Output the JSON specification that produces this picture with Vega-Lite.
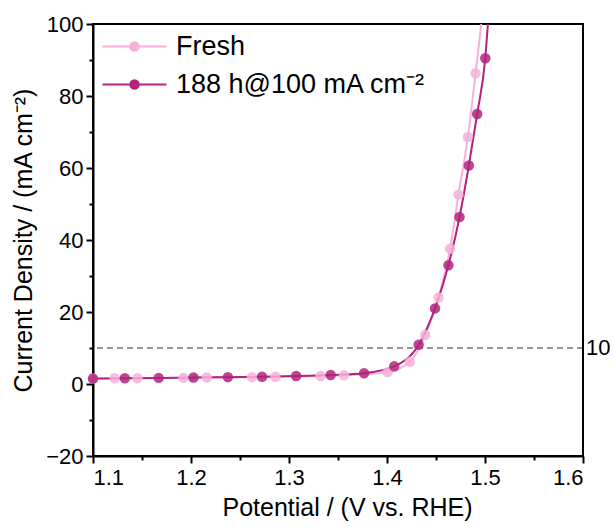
{
  "$schema": "https://vega.github.io/schema/vega-lite/v6.json",
  "width": 490,
  "height": 432,
  "autosize": {"type": "none"},
  "padding": {"left": 93, "top": 24, "right": 31, "bottom": 73},
  "background": "white",
  "config": {
    "font": "Liberation Sans",
    "view": {"stroke": "#000000", "strokeWidth": 2},
    "axis": {
      "domainColor": "#000000", "domainWidth": 2,
      "tickColor": "#000000", "tickWidth": 2,
      "labelColor": "#000000", "titleColor": "#000000",
      "grid": false, "labelFontSize": 22, "titleFontSize": 25,
      "titleFontWeight": "normal", "labelFont": "Liberation Sans", "titleFont": "Liberation Sans"
    }
  },
  "datasets": {
    "markers": [
      {"sample": "Fresh", "V": 1.1, "j": 1.5},
      {"sample": "Fresh", "V": 1.1222, "j": 1.6},
      {"sample": "Fresh", "V": 1.1454, "j": 1.6},
      {"sample": "Fresh", "V": 1.1922, "j": 1.7},
      {"sample": "Fresh", "V": 1.2161, "j": 1.8},
      {"sample": "Fresh", "V": 1.2622, "j": 1.9},
      {"sample": "Fresh", "V": 1.2861, "j": 2.0},
      {"sample": "Fresh", "V": 1.3322, "j": 2.2},
      {"sample": "Fresh", "V": 1.3561, "j": 2.4},
      {"sample": "Fresh", "V": 1.4005, "j": 3.3},
      {"sample": "Fresh", "V": 1.4234, "j": 6.2},
      {"sample": "Fresh", "V": 1.439, "j": 13.6},
      {"sample": "Fresh", "V": 1.4525, "j": 24.0},
      {"sample": "Fresh", "V": 1.4644, "j": 37.6},
      {"sample": "Fresh", "V": 1.4729, "j": 52.6},
      {"sample": "Fresh", "V": 1.4825, "j": 68.6},
      {"sample": "Fresh", "V": 1.4904, "j": 86.3},
      {"sample": "188 h@100 mA cm⁻²", "V": 1.1, "j": 1.5},
      {"sample": "188 h@100 mA cm⁻²", "V": 1.1325, "j": 1.6},
      {"sample": "188 h@100 mA cm⁻²", "V": 1.167, "j": 1.7},
      {"sample": "188 h@100 mA cm⁻²", "V": 1.2025, "j": 1.8},
      {"sample": "188 h@100 mA cm⁻²", "V": 1.2376, "j": 1.9},
      {"sample": "188 h@100 mA cm⁻²", "V": 1.2725, "j": 2.0},
      {"sample": "188 h@100 mA cm⁻²", "V": 1.3073, "j": 2.2},
      {"sample": "188 h@100 mA cm⁻²", "V": 1.3425, "j": 2.5},
      {"sample": "188 h@100 mA cm⁻²", "V": 1.3766, "j": 3.0},
      {"sample": "188 h@100 mA cm⁻²", "V": 1.4074, "j": 4.9},
      {"sample": "188 h@100 mA cm⁻²", "V": 1.4323, "j": 10.9},
      {"sample": "188 h@100 mA cm⁻²", "V": 1.449, "j": 21.0},
      {"sample": "188 h@100 mA cm⁻²", "V": 1.4627, "j": 33.0},
      {"sample": "188 h@100 mA cm⁻²", "V": 1.474, "j": 46.4},
      {"sample": "188 h@100 mA cm⁻²", "V": 1.4835, "j": 60.7},
      {"sample": "188 h@100 mA cm⁻²", "V": 1.492, "j": 75.0},
      {"sample": "188 h@100 mA cm⁻²", "V": 1.5003, "j": 90.5}
    ],
    "curves": [
      {"sample": "Fresh", "V": 1.1, "j": 1.5},
      {"sample": "Fresh", "V": 1.1222, "j": 1.6},
      {"sample": "Fresh", "V": 1.1454, "j": 1.6},
      {"sample": "Fresh", "V": 1.1922, "j": 1.7},
      {"sample": "Fresh", "V": 1.2161, "j": 1.8},
      {"sample": "Fresh", "V": 1.2622, "j": 1.9},
      {"sample": "Fresh", "V": 1.2861, "j": 2.0},
      {"sample": "Fresh", "V": 1.3322, "j": 2.2},
      {"sample": "Fresh", "V": 1.3561, "j": 2.4},
      {"sample": "Fresh", "V": 1.4005, "j": 3.3},
      {"sample": "Fresh", "V": 1.4234, "j": 6.2},
      {"sample": "Fresh", "V": 1.439, "j": 13.6},
      {"sample": "Fresh", "V": 1.4525, "j": 24.0},
      {"sample": "Fresh", "V": 1.4644, "j": 37.6},
      {"sample": "Fresh", "V": 1.4729, "j": 52.6},
      {"sample": "Fresh", "V": 1.4825, "j": 68.6},
      {"sample": "Fresh", "V": 1.4904, "j": 86.3},
      {"sample": "Fresh", "V": 1.4962, "j": 100.0},
      {"sample": "188 h@100 mA cm⁻²", "V": 1.1, "j": 1.5},
      {"sample": "188 h@100 mA cm⁻²", "V": 1.1325, "j": 1.6},
      {"sample": "188 h@100 mA cm⁻²", "V": 1.167, "j": 1.7},
      {"sample": "188 h@100 mA cm⁻²", "V": 1.2025, "j": 1.8},
      {"sample": "188 h@100 mA cm⁻²", "V": 1.2376, "j": 1.9},
      {"sample": "188 h@100 mA cm⁻²", "V": 1.2725, "j": 2.0},
      {"sample": "188 h@100 mA cm⁻²", "V": 1.3073, "j": 2.2},
      {"sample": "188 h@100 mA cm⁻²", "V": 1.3425, "j": 2.5},
      {"sample": "188 h@100 mA cm⁻²", "V": 1.3766, "j": 3.0},
      {"sample": "188 h@100 mA cm⁻²", "V": 1.4074, "j": 4.9},
      {"sample": "188 h@100 mA cm⁻²", "V": 1.4323, "j": 10.9},
      {"sample": "188 h@100 mA cm⁻²", "V": 1.449, "j": 21.0},
      {"sample": "188 h@100 mA cm⁻²", "V": 1.4627, "j": 33.0},
      {"sample": "188 h@100 mA cm⁻²", "V": 1.474, "j": 46.4},
      {"sample": "188 h@100 mA cm⁻²", "V": 1.4835, "j": 60.7},
      {"sample": "188 h@100 mA cm⁻²", "V": 1.492, "j": 75.0},
      {"sample": "188 h@100 mA cm⁻²", "V": 1.5003, "j": 90.5},
      {"sample": "188 h@100 mA cm⁻²", "V": 1.503, "j": 100.0}
    ],
    "reference": [{"V": 1.6, "j": 10, "label": "10"}]
  },
  "layer": [
    {
      "data": {"name": "reference"},
      "mark": {"type": "rule", "strokeDash": [6, 4], "color": "#333333", "strokeWidth": 1.2},
      "encoding": {
        "y": {"field": "j", "type": "quantitative", "scale": {"domain": [-20, 100], "nice": false, "zero": false}, "axis": null}
      }
    },
    {
      "data": {"name": "reference"},
      "mark": {"type": "text", "align": "left", "baseline": "middle", "dx": 3, "fontSize": 22, "color": "#000000", "font": "Liberation Sans"},
      "encoding": {
        "x": {"field": "V", "type": "quantitative", "scale": {"domain": [1.1, 1.6], "nice": false, "zero": false}, "axis": null},
        "y": {"field": "j", "type": "quantitative", "scale": {"domain": [-20, 100], "nice": false, "zero": false}, "axis": null},
        "text": {"field": "label"}
      }
    },
    {
      "data": {"name": "curves"},
      "mark": {"type": "line", "interpolate": "monotone", "strokeWidth": 2, "clip": true},
      "encoding": {
        "x": {"field": "V", "type": "quantitative", "scale": {"domain": [1.1, 1.6], "nice": false, "zero": false},
          "axis": {"values": [1.1, 1.2, 1.3, 1.4, 1.5, 1.6], "format": ".1f", "tickSize": 7, "labelPadding": 4, "title": "Potential / (V vs. RHE)", "titlePadding": 7, "titleX": 254, "orient": "bottom"}},
        "y": {"field": "j", "type": "quantitative", "scale": {"domain": [-20, 100], "nice": false, "zero": false},
          "axis": {"values": [-20, 0, 20, 40, 60, 80, 100], "tickSize": 7, "labelPadding": 3, "title": "Current Density / (mA cm⁻²)", "titlePadding": 9, "orient": "left"}},
        "color": {"field": "sample", "type": "nominal", "sort": ["Fresh", "188 h@100 mA cm⁻²"],
          "scale": {"domain": ["Fresh", "188 h@100 mA cm⁻²"], "range": ["#F6B0DA", "#B0247C"]},
          "legend": {"title": null, "orient": "none", "legendX": 28, "legendY": 9, "padding": 0,
            "labelFontSize": 27, "labelFont": "Liberation Sans", "labelColor": "#000000", "labelOffset": 28, "labelLimit": 0, "rowPadding": 10,
            "symbolType": "M-6.4,0L6.4,0M-0.85,0A0.85,0.85 0 1,0 0.85,0A0.85,0.85 0 1,0 -0.85,0Z", "symbolSize": 100, "symbolStrokeWidth": 2,
            "encode": {"symbols": {"update": {"fill": {"scale": "color", "field": "value"}, "stroke": {"scale": "color", "field": "value"}, "strokeWidth": {"value": 2}, "opacity": {"value": 1}}}}}
        }
      }
    },
    {
      "data": {"name": "markers"},
      "mark": {"type": "point", "filled": true, "size": 110, "opacity": 0.85},
      "encoding": {
        "x": {"field": "V", "type": "quantitative", "scale": {"domain": [1.1, 1.6], "nice": false, "zero": false}, "axis": null},
        "y": {"field": "j", "type": "quantitative", "scale": {"domain": [-20, 100], "nice": false, "zero": false}, "axis": null},
        "color": {"field": "sample", "type": "nominal", "sort": ["Fresh", "188 h@100 mA cm⁻²"],
          "scale": {"domain": ["Fresh", "188 h@100 mA cm⁻²"], "range": ["#F6B0DA", "#B0247C"]},
          "legend": {"title": null, "orient": "none", "legendX": 28, "legendY": 9, "padding": 0,
            "labelFontSize": 27, "labelFont": "Liberation Sans", "labelColor": "#000000", "labelOffset": 28, "labelLimit": 0, "rowPadding": 10,
            "symbolType": "M-6.4,0L6.4,0M-0.85,0A0.85,0.85 0 1,0 0.85,0A0.85,0.85 0 1,0 -0.85,0Z", "symbolSize": 100, "symbolStrokeWidth": 2,
            "encode": {"symbols": {"update": {"fill": {"scale": "color", "field": "value"}, "stroke": {"scale": "color", "field": "value"}, "strokeWidth": {"value": 2}, "opacity": {"value": 1}}}}}
        }
      }
    },
    {
      "data": {"name": "reference"},
      "mark": {"type": "point", "opacity": 0},
      "encoding": {
        "x": {"field": "V", "type": "quantitative", "scale": {"domain": [1.1, 1.6], "nice": false, "zero": false},
          "axis": {"values": [1.15, 1.25, 1.35, 1.45, 1.55], "tickSize": 4, "labels": false, "domain": false, "title": null, "orient": "bottom"}},
        "y": {"field": "j", "type": "quantitative", "scale": {"domain": [-20, 100], "nice": false, "zero": false},
          "axis": {"values": [-10, 10, 30, 50, 70, 90], "tickSize": 4, "labels": false, "domain": false, "title": null, "orient": "left"}}
      }
    }
  ],
  "resolve": {"axis": {"x": "independent", "y": "independent"}}
}
